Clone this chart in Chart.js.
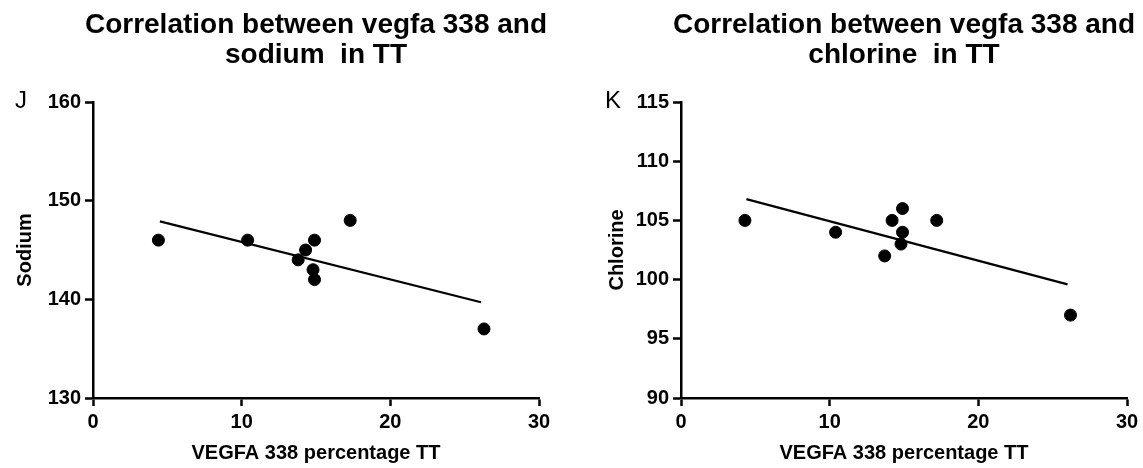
<!DOCTYPE html>
<html>
<head>
<meta charset="utf-8">
<script src="https://cdn.jsdelivr.net/npm/chart.js@4/dist/chart.umd.min.js"></script>
<style>
  html, body { margin: 0; padding: 0; background: #fff; }
  #wrap { position: relative; width: 1143px; height: 468px; }
  #left { position: absolute; left: 0; top: 0; }
  #right { position: absolute; left: 571px; top: 0; }
</style>
</head>
<body>
<div id="wrap">
  <canvas id="left" width="571" height="468"></canvas>
  <canvas id="right" width="572" height="468"></canvas>
</div>
<script>
// values
const xTickValues = [0, 10, 20, 30];
const sodiumTickValues = [130, 140, 150, 160];
const chlorineTickValues = [90, 95, 100, 105, 110, 115];

const vegfaSodium = [4.4, 10.4, 13.8, 14.3, 14.9, 14.8, 14.9, 17.3, 26.3];
const sodium = [146, 146, 144, 145, 146, 143, 142, 148, 137];
const sodiumFitX = [4.5, 26.1];
const sodiumFitY = [147.9, 139.7];

const vegfaChlorine = [4.3, 10.4, 14.2, 14.9, 14.9, 14.8, 13.7, 17.2, 26.2];
const chlorine = [105, 104, 105, 106, 104, 103, 102, 105, 97];
const chlorineFitX = [4.4, 26.0];
const chlorineFitY = [106.8, 99.6];

const FONT = '"Liberation Sans", Arial, sans-serif';
Chart.defaults.font.family = FONT;
Chart.defaults.color = '#000';

const panelText = {
    id: 'panelText',
    afterDraw(chart, args, opts) {
        const { ctx, chartArea } = chart;
        ctx.save();
        ctx.fillStyle = '#000';
        ctx.textAlign = 'center';
        ctx.textBaseline = 'alphabetic';
        ctx.font = 'bold 28px ' + FONT;
        const cx = (chartArea.left + chartArea.right) / 2;
        opts.title.forEach((t, i) => ctx.fillText(t, cx, 33 + i * 30));
        ctx.textAlign = 'left';
        ctx.textBaseline = 'middle';
        ctx.font = '24px ' + FONT;
        ctx.fillText(opts.letter, opts.letterX, 101);
        ctx.restore();
    }
};

function pairs(xs, ys) {
    return xs.map((x, i) => ({ x: x, y: ys[i] }));
}

function makeChart(id, cfg) {
    const ctx = document.getElementById(id).getContext('2d');
    return new Chart(ctx, {
        type: 'scatter',
        data: {
            datasets: [{
                data: pairs(cfg.xs, cfg.ys),
                backgroundColor: '#000',
                borderColor: '#000',
                pointRadius: 6,
                pointHoverRadius: 6
            }, {
                type: 'line',
                data: pairs(cfg.fitX, cfg.fitY),
                borderColor: '#000',
                borderWidth: 2.2,
                pointRadius: 0,
                fill: false
            }]
        },
        options: {
            responsive: false,
            animation: false,
            layout: { padding: { left: 0, right: cfg.padRight, top: 102, bottom: 0 } },
            plugins: {
                legend: { display: false },
                tooltip: { enabled: false },
                panelText: { title: cfg.title, letter: cfg.letter, letterX: cfg.letterX }
            },
            scales: {
                x: {
                    type: 'linear',
                    min: 0,
                    max: 30,
                    afterBuildTicks: s => { s.ticks = xTickValues.map(v => ({ value: v })); },
                    afterFit: s => { s.height = 70; s.paddingLeft = 0; s.paddingRight = 0; },
                    border: { display: true, color: '#000', width: 2.5 },
                    grid: { drawOnChartArea: false, drawTicks: true, tickLength: 8, tickColor: '#000', tickWidth: 2.5 },
                    ticks: { padding: 4, font: { size: 20, weight: 'bold' }, color: '#000', maxRotation: 0 },
                    title: {
                        display: true,
                        text: 'VEGFA 338 percentage TT',
                        font: { size: 20, weight: 'bold' },
                        color: '#000',
                        padding: { top: 0, bottom: 3 }
                    }
                },
                y: {
                    type: 'linear',
                    min: cfg.yTicks[0],
                    max: cfg.yTicks[cfg.yTicks.length - 1],
                    afterBuildTicks: s => { s.ticks = cfg.yTicks.map(v => ({ value: v })); },
                    afterFit: s => { s.width = cfg.yWidth; s.paddingTop = 0; s.paddingBottom = 0; },
                    border: { display: true, color: '#000', width: 2.5 },
                    grid: { drawOnChartArea: false, drawTicks: true, tickLength: 8, tickColor: '#000', tickWidth: 2.5 },
                    ticks: { padding: 4, font: { size: 20, weight: 'bold' }, color: '#000' },
                    title: {
                        display: true,
                        text: cfg.yTitle,
                        font: { size: 20, weight: 'bold' },
                        color: '#000',
                        padding: { top: cfg.yTitlePad, bottom: 0 }
                    }
                }
            }
        },
        plugins: [panelText]
    });
}

makeChart('left', {
    xs: vegfaSodium, ys: sodium, fitX: sodiumFitX, fitY: sodiumFitY,
    yTicks: sodiumTickValues, yTitle: 'Sodium', yTitlePad: 13, yWidth: 93,
    padRight: 32, letter: 'J', letterX: 15,
    title: ['Correlation between vegfa 338 and', 'sodium  in TT']
});

makeChart('right', {
    xs: vegfaChlorine, ys: chlorine, fitX: chlorineFitX, fitY: chlorineFitY,
    yTicks: chlorineTickValues, yTitle: 'Chlorine', yTitlePad: 34, yWidth: 110,
    padRight: 16, letter: 'K', letterX: 34,
    title: ['Correlation between vegfa 338 and', 'chlorine  in TT']
});
</script>
</body>
</html>
